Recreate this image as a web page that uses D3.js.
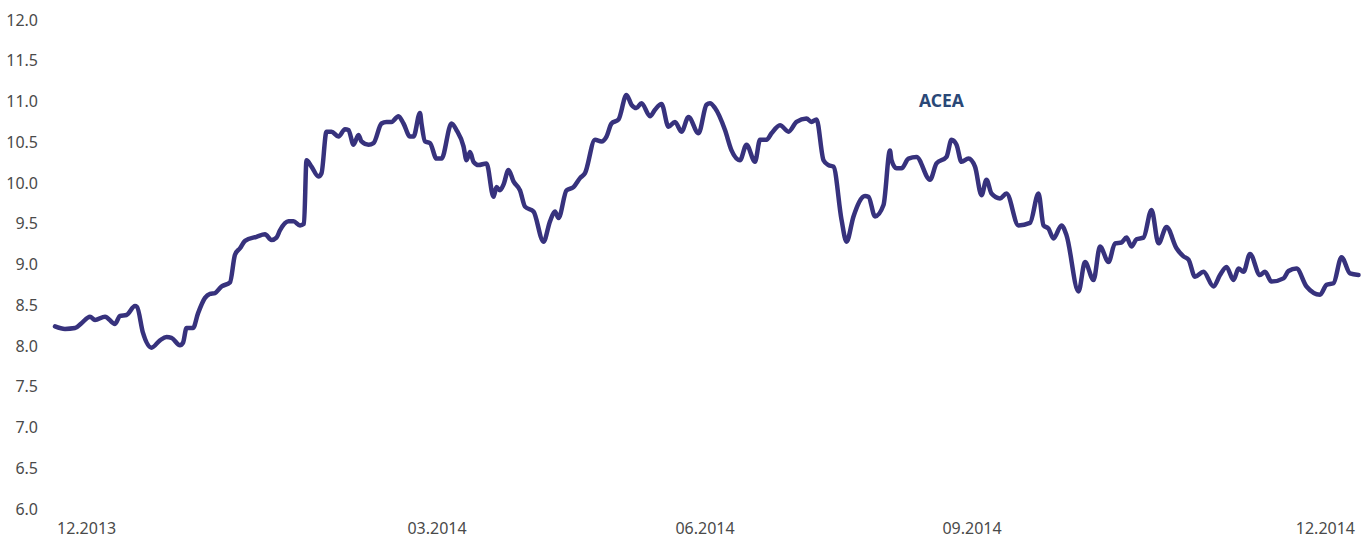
<!DOCTYPE html>
<html>
<head>
<meta charset="utf-8">
<script src="https://cdn.jsdelivr.net/npm/d3@7"></script>
<style>
  body { margin: 0; background: #fff; }
  .axis text { font-family: "Noto Sans", sans-serif; font-size: 16px; fill: #4a4a4a; }
</style>
</head>
<body>
<div class="chart"></div>
<script>
// share price (x = trading day index, y = euro)
const day = [0,2,4,5.3,7,8,10,12,13,14.3,16,16.4,17.6,19.3,21,22.3,23.3,25,25.6,26.3,27.6,28.6,30,31,32,33.3,35,36,37,38,40.3,42,43.3,44.3,45,46.7,47.7,49,49.8,50.3,51.3,52.7,53.3,54.3,55.3,56.7,58,58.7,59.7,60.7,61.3,62.7,63.7,65.3,66.3,67.3,68.7,69.7,71,71.7,73,73.3,74,75,76.3,77.3,79.3,80.3,81.7,82.3,83,83.7,84.7,86.3,87.7,88.3,89,89.7,90.7,91.7,93,94,95.7,97.7,99,100,100.7,102.3,103.7,105,106,108,109.3,110.3,111.3,112.7,114.3,115.3,116.3,117.3,119,120,121.3,122.7,124,125.3,126.7,128.7,130.3,131,132,134,135.3,137,138.3,140,141,142.3,143.3,145,146.7,148.3,150.3,151.3,152.3,153.7,154.7,155.7,157.3,158.3,159.7,162,162.7,164,165.7,167,167.3,168.3,169.3,170.7,172.3,175,176.3,178.3,179.3,180.3,181.3,182.7,184,185.3,186.3,187.3,189,190.3,192.7,195,196.7,197.7,198.7,199.7,201.3,202.3,204.7,206,207.7,209,210.7,212,213.3,214.3,215.3,216.3,217.7,219.3,220.7,222.3,224.3,225.7,226.7,228,229.7,231.7,233,234.3,235.7,236.7,237.7,239,241,242,243.3,245.7,246.7,248.3,250.3,253,254.3,255.7,257.3,259,260.7];
const price = [8.24,8.21,8.22,8.28,8.36,8.32,8.36,8.27,8.37,8.38,8.49,8.48,8.16,7.98,8.07,8.11,8.10,8.01,8.04,8.22,8.22,8.40,8.59,8.64,8.65,8.73,8.78,9.12,9.20,9.29,9.34,9.37,9.30,9.33,9.42,9.53,9.53,9.48,9.50,10.28,10.20,10.08,10.12,10.63,10.63,10.57,10.66,10.65,10.47,10.59,10.51,10.47,10.49,10.73,10.75,10.75,10.82,10.73,10.57,10.57,10.86,10.73,10.51,10.49,10.30,10.30,10.73,10.65,10.45,10.28,10.38,10.26,10.22,10.24,9.83,9.95,9.91,9.98,10.16,10.02,9.91,9.71,9.65,9.28,9.53,9.65,9.57,9.91,9.95,10.06,10.12,10.53,10.51,10.57,10.73,10.78,11.08,10.96,10.92,10.98,10.82,10.90,10.97,10.69,10.75,10.63,10.81,10.61,10.96,10.98,10.92,10.65,10.40,10.28,10.47,10.26,10.53,10.53,10.61,10.71,10.63,10.75,10.79,10.75,10.78,10.28,10.22,10.20,9.55,9.28,9.59,9.84,9.83,9.59,9.73,10.40,10.28,10.18,10.18,10.30,10.32,10.04,10.24,10.32,10.53,10.47,10.26,10.30,10.20,9.85,10.04,9.87,9.81,9.87,9.48,9.51,9.87,9.48,9.44,9.32,9.48,9.36,8.67,9.03,8.81,9.22,9.03,9.26,9.27,9.33,9.22,9.31,9.33,9.67,9.26,9.46,9.20,9.10,9.06,8.85,8.91,8.73,8.87,8.97,8.81,8.95,8.91,9.13,8.87,8.91,8.79,8.83,8.92,8.95,8.73,8.63,8.75,8.77,9.09,8.89,8.87];

const yTicks = [6, 6.5, 7, 7.5, 8, 8.5, 9, 9.5, 10, 10.5, 11, 11.5, 12];
const xTickDay = [0, 76.4, 130, 183.4, 260];
const xTickLabel = ["12.2013", "03.2014", "06.2014", "09.2014", "12.2014"];
const seriesName = "ACEA";

const width = 1370, height = 541;

const svg = d3.select(".chart").append("svg")
    .attr("width", width)
    .attr("height", height);

const x = d3.scaleLinear().domain([0, 260]).range([55, 1355]);
const y = d3.scaleLinear().domain([6, 12]).range([509, 20]);

// y axis - labels only
svg.append("g")
    .attr("class", "axis")
    .attr("transform", "translate(38,0)")
    .call(d3.axisLeft(y).tickValues(yTicks).tickSize(0).tickPadding(0).tickFormat(d3.format(".1f")))
    .call(g => g.select(".domain").remove());

// x labels, first left aligned, last right aligned
svg.append("g")
    .attr("class", "axis")
    .selectAll("text")
    .data(xTickDay)
    .enter().append("text")
    .attr("x", (d, i) => x(d) + (i == 0 ? 2 : 0))
    .attr("y", 534)
    .attr("text-anchor", (d, i) => i == 0 ? "start" : (i == xTickDay.length - 1 ? "end" : "middle"))
    .text((d, i) => xTickLabel[i]);

const line = d3.line()
    .x((d, i) => x(day[i]))
    .y(d => y(d))
    .curve(d3.curveMonotoneX);

svg.append("path")
    .datum(price)
    .attr("fill", "none")
    .attr("stroke", "#37327d")
    .attr("stroke-width", 4.5)
    .attr("stroke-linejoin", "round")
    .attr("stroke-linecap", "round")
    .attr("d", line);

svg.append("text")
    .attr("x", 919)
    .attr("y", 107)
    .style("font-family", "Noto Sans")
    .style("font-weight", "bold")
    .style("font-size", "17.5px")
    .style("fill", "#2a4877")
    .text(seriesName);
</script>
</body>
</html>
